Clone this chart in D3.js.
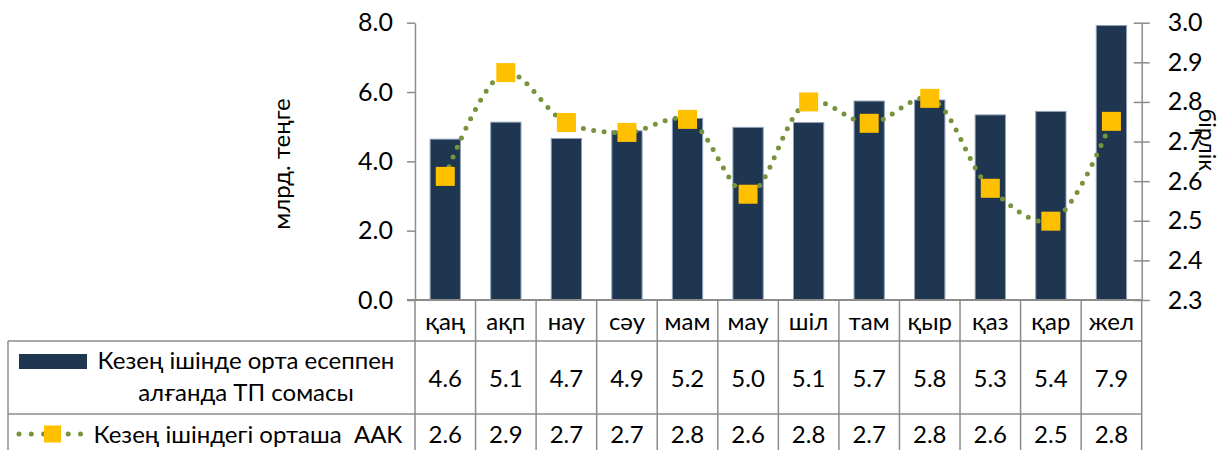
<!DOCTYPE html>
<html>
<head>
<meta charset="utf-8">
<script src="https://cdn.jsdelivr.net/npm/d3@7"></script>
<style>
  body { margin: 0; background: #fff; }
  svg { display: block; }
  text { font-family: Lato, "Noto Sans", sans-serif; fill: #000; }
</style>
</head>
<body>
<div class="vis-area"></div>
<script>
// chart data
var months = ['қаң', 'ақп', 'нау', 'сәу', 'мам', 'мау', 'шіл', 'там', 'қыр', 'қаз', 'қар', 'жел'];
var tpSum = [4.64, 5.13, 4.66, 4.88, 5.24, 4.98, 5.12, 5.74, 5.77, 5.34, 5.44, 7.92];
var aak = [2.612, 2.874, 2.748, 2.723, 2.756, 2.567, 2.80, 2.746, 2.809, 2.582, 2.499, 2.751];
var leftTicks = [0, 2, 4, 6, 8];
var rightTicks = [2.3, 2.4, 2.5, 2.6, 2.7, 2.8, 2.9, 3.0];
var barLabel = ['Кезең ішінде орта есеппен', 'алғанда ТП сомасы'];
var lineLabel = 'Кезең ішіндегі орташа  ААК';
var leftTitle = 'млрд. теңге';
var rightTitle = 'бірлік';

var width = 1224;
var height = 450;

var barColor = '#1f3651';
var lineColor = '#77933c';
var markerColor = '#ffc000';
var gridColor = '#8c8c8c';

var plotLeft = 415, plotRight = 1141.7, plotTop = 22.7, plotBottom = 300;
var tableLeft = 8, row1Top = 341, row2Top = 414;
var fontSize = 24;
var tickFont = 25;

var svg = d3.select('.vis-area')
  .append('svg')
  .attr('width', width)
  .attr('height', height);

var x = d3.scaleBand()
  .domain(months)
  .range([plotLeft, plotRight])
  .paddingInner(0.5)
  .paddingOuter(0.25);

var y = d3.scaleLinear().domain([0, 8]).range([plotBottom, plotTop]);
var y2 = d3.scaleLinear().domain([2.3, 3.0]).range([plotBottom, plotTop]);
var fmt = d3.format('.1f');

// left axis
var leftAxis = svg.append('g')
  .attr('transform', `translate(${plotLeft},0)`)
  .call(d3.axisLeft(y).tickValues(leftTicks).tickFormat(fmt).tickSizeInner(8).tickSizeOuter(0).tickPadding(14));
leftAxis.selectAll('.domain, line').attr('stroke', gridColor).attr('stroke-width', 1.5);
leftAxis.selectAll('text').attr('font-size', tickFont).style('font-family', 'Lato, "Noto Sans", sans-serif');

// right axis, ticks cross the line
var rightAxis = svg.append('g')
  .attr('transform', `translate(${plotRight},0)`)
  .call(d3.axisRight(y2).tickValues(rightTicks).tickFormat(fmt).tickSizeInner(8).tickSizeOuter(0).tickPadding(18));
rightAxis.selectAll('.tick line').attr('x1', -8);
rightAxis.selectAll('.domain, line').attr('stroke', gridColor).attr('stroke-width', 1.5);
rightAxis.selectAll('text').attr('font-size', tickFont).style('font-family', 'Lato, "Noto Sans", sans-serif');

// axis titles
svg.append('text')
  .attr('transform', `translate(290,164) rotate(-90)`)
  .attr('text-anchor', 'middle')
  .attr('font-size', fontSize)
  .text(leftTitle);

svg.append('text')
  .attr('transform', `translate(1199,140) rotate(90)`)
  .attr('text-anchor', 'middle')
  .attr('font-size', fontSize - 1)
  .text(rightTitle);

// bars
svg.selectAll('.bar')
  .data(tpSum)
  .enter()
  .append('rect')
  .attr('class', 'bar')
  .attr('x', (d, i) => x(months[i]))
  .attr('width', x.bandwidth())
  .attr('y', d => y(d))
  .attr('height', d => y(0) - y(d))
  .attr('fill', barColor)
  .attr('stroke', '#8ea0b8')
  .attr('stroke-width', 1);

// smoothed dotted line
var line = d3.line()
  .x((d, i) => x(months[i]) + x.bandwidth() / 2)
  .y(d => y2(d))
  .curve(d3.curveCatmullRom);

svg.append('path')
  .datum(aak)
  .attr('d', line)
  .attr('fill', 'none')
  .attr('stroke', lineColor)
  .attr('stroke-width', 5)
  .attr('stroke-linecap', 'round')
  .attr('stroke-dasharray', '0,10.5');

var mSize = 19;
svg.selectAll('.marker')
  .data(aak)
  .enter()
  .append('rect')
  .attr('class', 'marker')
  .attr('x', (d, i) => x(months[i]) + x.bandwidth() / 2 - mSize / 2)
  .attr('y', d => y2(d) - mSize / 2)
  .attr('width', mSize)
  .attr('height', mSize)
  .attr('fill', markerColor);

// category axis line
svg.append('line')
  .attr('x1', plotLeft - 8).attr('x2', plotRight)
  .attr('y1', plotBottom).attr('y2', plotBottom)
  .attr('stroke', gridColor).attr('stroke-width', 2);

// data table grid
var table = svg.append('g').attr('stroke', gridColor).attr('stroke-width', 1.5);
d3.range(months.length + 1).forEach(i => {
  var xx = plotLeft + i * x.step();
  table.append('line')
    .attr('x1', xx).attr('x2', xx)
    .attr('y1', plotBottom).attr('y2', height);
});
[row1Top, row2Top].forEach(yy => {
  table.append('line')
    .attr('x1', tableLeft).attr('x2', plotRight)
    .attr('y1', yy).attr('y2', yy);
});
table.append('line')
  .attr('x1', tableLeft).attr('x2', tableLeft)
  .attr('y1', row1Top).attr('y2', height);

// month labels
svg.selectAll('.month')
  .data(months)
  .enter()
  .append('text')
  .attr('class', 'month')
  .attr('x', d => x(d) + x.bandwidth() / 2)
  .attr('y', 330)
  .attr('text-anchor', 'middle')
  .attr('font-size', fontSize)
  .text(d => d);

// table values
svg.selectAll('.val1')
  .data(tpSum)
  .enter()
  .append('text')
  .attr('x', (d, i) => x(months[i]) + x.bandwidth() / 2)
  .attr('y', 387)
  .attr('text-anchor', 'middle')
  .attr('font-size', fontSize)
  .text(d => fmt(d));

svg.selectAll('.val2')
  .data(aak)
  .enter()
  .append('text')
  .attr('x', (d, i) => x(months[i]) + x.bandwidth() / 2)
  .attr('y', 443)
  .attr('text-anchor', 'middle')
  .attr('font-size', fontSize)
  .text(d => fmt(d));

// legend keys in the table
svg.append('rect')
  .attr('x', 19).attr('y', 354)
  .attr('width', 68).attr('height', 15)
  .attr('fill', barColor);

svg.selectAll('.lbl1')
  .data(barLabel)
  .enter()
  .append('text')
  .attr('x', 246)
  .attr('y', (d, i) => 369 + i * 32)
  .attr('text-anchor', 'middle')
  .attr('font-size', fontSize)
  .text(d => d);

svg.append('line')
  .attr('x1', 19).attr('x2', 82)
  .attr('y1', 434).attr('y2', 434)
  .attr('stroke', lineColor)
  .attr('stroke-width', 5)
  .attr('stroke-linecap', 'round')
  .attr('stroke-dasharray', '0,12.3');

svg.append('rect')
  .attr('x', 44).attr('y', 425.5)
  .attr('width', 17).attr('height', 17)
  .attr('fill', markerColor);

svg.append('text')
  .attr('x', 248)
  .attr('y', 443)
  .attr('text-anchor', 'middle')
  .attr('font-size', fontSize)
  .style('white-space', 'pre')
  .text(lineLabel);
</script>
</body>
</html>
